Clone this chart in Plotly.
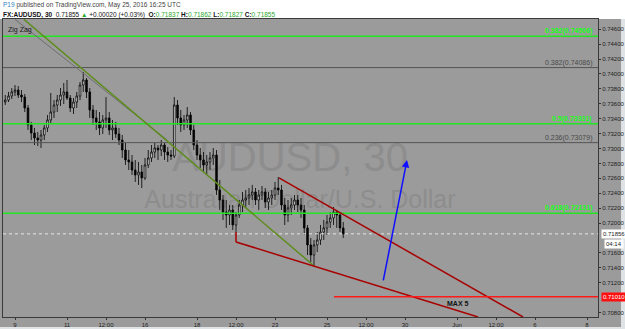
import plotly.graph_objects as go

# ---------------- data ----------------
# x axis: trading days counted from Mon May 9 00:00 (weekends removed)
BAR_START_DAY = -0.375
BAR_STEP_DAY = 0.125          # one bar = 3 hours
first_open = 0.73624
bar_high = [0.73718, 0.73759, 0.73812, 0.73852, 0.73839, 0.73785, 0.73732, 0.73584, 0.73356, 0.73276,
            0.73222, 0.73249, 0.73316, 0.73450, 0.73745, 0.73651, 0.73718, 0.73812, 0.73879, 0.73920,
            0.73718, 0.73678, 0.73759, 0.73893, 0.74027, 0.73946, 0.73812, 0.73584, 0.73517, 0.73490,
            0.73450, 0.73691, 0.73490, 0.73383, 0.73356, 0.73276, 0.73181, 0.73074, 0.72980, 0.72913,
            0.72846, 0.72819, 0.72779, 0.72873, 0.72980, 0.73047, 0.73074, 0.73047, 0.73114, 0.73074,
            0.73020, 0.72980, 0.73691, 0.73651, 0.73517, 0.73450, 0.73557, 0.73490, 0.73316, 0.73114,
            0.73007, 0.72953, 0.72913, 0.72953, 0.73007, 0.72980, 0.72578, 0.72376, 0.72309, 0.72242,
            0.72242, 0.72148, 0.72309, 0.72417, 0.72443, 0.72470, 0.72511, 0.72470, 0.72443, 0.72497,
            0.72470, 0.72417, 0.72443, 0.72551, 0.72618, 0.72511, 0.72336, 0.72309, 0.72336, 0.72376,
            0.72376, 0.72336, 0.72242, 0.71974, 0.71799, 0.71773, 0.71880, 0.71974, 0.72041, 0.72108,
            0.72148, 0.72215, 0.72175, 0.72148, 0.72014]
bar_low = [0.73584, 0.73624, 0.73665, 0.73705, 0.73678, 0.73624, 0.73490, 0.73249, 0.73114, 0.73047,
           0.73034, 0.73007, 0.73114, 0.73222, 0.73329, 0.73410, 0.73490, 0.73571, 0.73597, 0.73651,
           0.73490, 0.73463, 0.73544, 0.73651, 0.73759, 0.73678, 0.73410, 0.73316, 0.73249, 0.73181,
           0.73195, 0.73276, 0.73181, 0.73114, 0.73141, 0.73047, 0.72873, 0.72779, 0.72712, 0.72645,
           0.72551, 0.72511, 0.72470, 0.72578, 0.72739, 0.72819, 0.72873, 0.72846, 0.72899, 0.72846,
           0.72819, 0.72846, 0.72873, 0.73316, 0.73222, 0.73249, 0.73276, 0.73181, 0.72980, 0.72846,
           0.72739, 0.72685, 0.72645, 0.72712, 0.72779, 0.72376, 0.72175, 0.72041, 0.71934, 0.71974,
           0.71907, 0.71880, 0.72068, 0.72148, 0.72202, 0.72242, 0.72309, 0.72242, 0.72175, 0.72309,
           0.72202, 0.72175, 0.72242, 0.72309, 0.72376, 0.72175, 0.71974, 0.72014, 0.72108, 0.72175,
           0.72148, 0.72068, 0.71840, 0.71571, 0.71477, 0.71423, 0.71611, 0.71706, 0.71773, 0.71840,
           0.71934, 0.71974, 0.71934, 0.71880, 0.71799]
bar_close = [0.73651, 0.73705, 0.73759, 0.73785, 0.73718, 0.73691, 0.73544, 0.73316, 0.73208, 0.73141,
             0.73114, 0.73181, 0.73276, 0.73383, 0.73490, 0.73584, 0.73651, 0.73718, 0.73759, 0.73678,
             0.73544, 0.73624, 0.73705, 0.73852, 0.73920, 0.73759, 0.73517, 0.73410, 0.73356, 0.73276,
             0.73383, 0.73410, 0.73249, 0.73276, 0.73195, 0.73114, 0.72980, 0.72846, 0.72819, 0.72712,
             0.72645, 0.72685, 0.72605, 0.72779, 0.72873, 0.72953, 0.73007, 0.72980, 0.73047, 0.72953,
             0.72913, 0.72899, 0.73584, 0.73410, 0.73316, 0.73383, 0.73450, 0.73249, 0.73047, 0.72913,
             0.72846, 0.72779, 0.72819, 0.72873, 0.72913, 0.72443, 0.72309, 0.72148, 0.72108, 0.72175,
             0.71974, 0.72108, 0.72242, 0.72309, 0.72336, 0.72376, 0.72417, 0.72309, 0.72376, 0.72417,
             0.72282, 0.72336, 0.72376, 0.72470, 0.72443, 0.72242, 0.72108, 0.72202, 0.72242, 0.72309,
             0.72242, 0.72175, 0.71934, 0.71706, 0.71571, 0.71706, 0.71773, 0.71880, 0.71934, 0.72014,
             0.72068, 0.72148, 0.72108, 0.71934, 0.71855]
bar_open = [first_open] + bar_close[:-1]
bar_day = [BAR_START_DAY + BAR_STEP_DAY * i for i in range(len(bar_close))]

tick_days = [0, 2, 3.5, 5, 7, 8.5, 10, 12, 13.5, 15, 17, 18.5, 20, 22]
tick_text = ["9", "11", "12:00", "16", "18", "12:00", "23", "25", "12:00", "30", "Jun", "12:00", "6", "8"]
price_ticks = [0.708, 0.712, 0.714, 0.716, 0.720, 0.722, 0.724, 0.726, 0.728, 0.730, 0.732,
               0.734, 0.736, 0.738, 0.740, 0.742, 0.744, 0.746]

fib_levels = [0.74506, 0.74086, 0.73331, 0.73079, 0.72131]
fib_labels = ["0.382(0.74506)", "0.382(0.74086)", "0.5(0.73331)", "0.236(0.73079)", "0.618(0.72131)"]
fib_is_green = [True, False, True, False, True]

zigzag_green = [(0.346, 0.74732), (11.46, 0.71437)]
zigzag_gray = [(0.0, 0.74732), (2.615, 0.74014), (5.846, 0.73115)]
wedge_upper = [(10.154, 0.72605), (19.54, 0.70739)]
wedge_lower = [(8.5, 0.71746), (17.81, 0.70739)]
wedge_stub = [(8.5, 0.71880), (8.5, 0.71746)]
target_arrow = [(14.154, 0.71209), (15.077, 0.72846)]
max_level = 0.71010
max_start_day = 12.27
last_price = 0.71855
last_price_label = "0.71856"
countdown = "04:14"

symbol = "FX:AUDUSD, 30"
chg = "+0.00020 (+0.03%)"
ohlc_last = {"O": "0.71837", "H": "0.71862", "L": "0.71827", "C": "0.71855"}

X_RANGE = [-0.4615, 22.423]
Y_RANGE = [0.70739, 0.74738]

# ---------------- styling ----------------
BG = "#9b9b9b"
FONT = "Liberation Sans"
GREEN = "#22e622"
GREEN_TXT = "#2aa82a"

fig = go.Figure()
fig.add_trace(go.Candlestick(
    x=bar_day, open=bar_open, high=bar_high, low=bar_low, close=bar_close,
    increasing=dict(fillcolor="#ffffff", line=dict(color="#000000", width=0.8)),
    decreasing=dict(fillcolor="#000000", line=dict(color="#000000", width=0.8)),
    whiskerwidth=0, hoverinfo="skip", showlegend=False))

shapes = []
# page backgrounds (paper coords: plot area is x 3..598, y 19..317 px)
shapes.append(dict(type="rect", xref="paper", yref="paper", x0=-0.006, x1=1.05, y0=-0.05, y1=1.0,
                   fillcolor="#dfe3e6", line=dict(width=0), layer="below"))
shapes.append(dict(type="rect", xref="paper", yref="paper", x0=-0.006, x1=1.0387, y0=-0.0336, y1=1.0,
                   fillcolor=BG, line=dict(width=0), layer="below"))

# watermark
shapes.append(dict(type="rect", xref="x", yref="y", x0=9.58, x1=11.58, y0=0.7289, y1=0.7299,
                   line=dict(width=0), fillcolor="rgba(0,0,0,0)", layer="below",
                   label=dict(text="AUDUSD, 30", font=dict(family=FONT, size=40, color="#8d8d8d"),
                              textposition="middle center")))
shapes.append(dict(type="rect", xref="x", yref="y", x0=9.96, x1=11.96, y0=0.7230, y1=0.7240,
                   line=dict(width=0), fillcolor="rgba(0,0,0,0)", layer="below",
                   label=dict(text="Australian Dollar/U.S. Dollar",
                              font=dict(family=FONT, size=25, color="#8d8d8d"),
                              textposition="middle center")))

def polyline(points, color, width, dash="solid"):
    for (xa, ya), (xb, yb) in zip(points[:-1], points[1:]):
        shapes.append(dict(type="line", xref="x", yref="y", x0=xa, y0=ya, x1=xb, y1=yb,
                           line=dict(color=color, width=width, dash=dash)))

annotations = []
for lvl, lab, g in zip(fib_levels, fib_labels, fib_is_green):
    col = GREEN if g else "#555555"
    shapes.append(dict(type="line", xref="paper", yref="y", x0=0, x1=1, y0=lvl, y1=lvl,
                       line=dict(color=col, width=1.5 if g else 1)))
    annotations.append(dict(xref="paper", yref="y", x=0.9935, y=lvl,
                            text=f"<b>{lab}</b>" if g else lab, showarrow=False,
                            xanchor="right", yanchor="bottom", yshift=-1,
                            font=dict(family=FONT, size=7, color="#19ff19" if g else "#4a4a4a")))

# current price dotted line
shapes.append(dict(type="line", xref="paper", yref="y", x0=0, x1=1, y0=last_price, y1=last_price,
                   line=dict(color="#e6e6e6", width=1, dash="dot")))

polyline(zigzag_gray, "#6e6e6e", 1)
polyline(zigzag_green, "#5e8c1e", 1.5)
polyline(wedge_upper, "#a80000", 1.5)
polyline(wedge_lower, "#a80000", 1.5)
polyline(wedge_stub, "#a80000", 1.5)
shapes.append(dict(type="line", xref="x", yref="y", x0=max_start_day, x1=X_RANGE[1],
                   y0=max_level, y1=max_level, line=dict(color="#ff1a1a", width=1.5)))

(ax0, ay0), (ax1, ay1) = target_arrow
annotations.append(dict(x=ax1, y=ay1, ax=ax0, ay=ay0, xref="x", yref="y", axref="x", ayref="y",
                        text="", showarrow=True, arrowcolor="#1010ff", arrowwidth=1.5,
                        arrowhead=2, arrowsize=1))

annotations.append(dict(x=(max_start_day + X_RANGE[1]) / 2 - 0.3, y=max_level, xref="x", yref="y",
                        text="<b>MAX 5</b>", showarrow=False, yanchor="top", yshift=-1,
                        font=dict(family=FONT, size=7, color="#111111")))

annotations.append(dict(xref="paper", yref="paper", x=0, y=1, xanchor="left", yanchor="top",
                        xshift=3, yshift=-5, text="Zig Zag", showarrow=False,
                        font=dict(family=FONT, size=7, color="#1a1a1a")))

# right-axis price boxes
annotations.append(dict(xref="paper", yref="y", x=1, y=last_price, xanchor="left", xshift=3,
                        text=last_price_label, showarrow=False, bgcolor="#ffffff", borderpad=1,
                        font=dict(family=FONT, size=6, color="#222222")))
annotations.append(dict(xref="paper", yref="y", x=1, y=last_price, xanchor="left", xshift=6,
                        yshift=-10, text=countdown, showarrow=False, bgcolor="#ffffff", borderpad=1,
                        font=dict(family=FONT, size=6, color="#222222")))
annotations.append(dict(xref="paper", yref="y", x=1, y=max_level, xanchor="left", xshift=3,
                        text=f"{max_level:.5f}", showarrow=False, bgcolor="#ff1010", borderpad=1,
                        font=dict(family=FONT, size=6, color="#ffffff")))

# header
line1 = ("<span style='color:#2f7fc1'>P19</span> published on TradingView.com, "
         "May 25, 2016 16:25 UTC")
parts = " ".join(f"<b>{k}:</b><span style='color:{GREEN_TXT}'>{v}</span>" for k, v in ohlc_last.items())
line2 = (f"<b>{symbol}</b>  {ohlc_last['C']} <span style='color:{GREEN_TXT}'>▲</span> {chg}  " + parts)
annotations.append(dict(xref="paper", yref="paper", x=0, y=1, xanchor="left", yanchor="middle",
                        xshift=-2, yshift=14, text=line1, showarrow=False,
                        font=dict(family=FONT, size=6.5, color="#444444")))
annotations.append(dict(xref="paper", yref="paper", x=0, y=1, xanchor="left", yanchor="middle",
                        xshift=-2, yshift=4, text=line2, showarrow=False,
                        font=dict(family=FONT, size=6.5, color="#111111")))

fig.update_layout(
    width=625, height=329, margin=dict(l=3, r=27, t=19, b=12),
    paper_bgcolor="#ffffff", plot_bgcolor=BG, showlegend=False, hovermode=False,
    shapes=shapes, annotations=annotations,
    xaxis=dict(range=X_RANGE, tickvals=tick_days, ticktext=tick_text, showgrid=False,
               zeroline=False, rangeslider=dict(visible=False), ticks="outside", ticklen=2,
               tickcolor="#333333", tickfont=dict(family=FONT, size=6, color="#222222"),
               showline=True, mirror=True, linecolor="#3a3a3a", linewidth=1, automargin=False),
    yaxis=dict(range=Y_RANGE, side="right", tickvals=price_ticks, tickformat=".5f",
               showgrid=False, zeroline=False, ticks="outside", ticklen=2, tickcolor="#333333",
               tickfont=dict(family=FONT, size=6, color="#222222"),
               showline=True, mirror=True, linecolor="#3a3a3a", linewidth=1, automargin=False),
)

fig.write_html("out.html")
